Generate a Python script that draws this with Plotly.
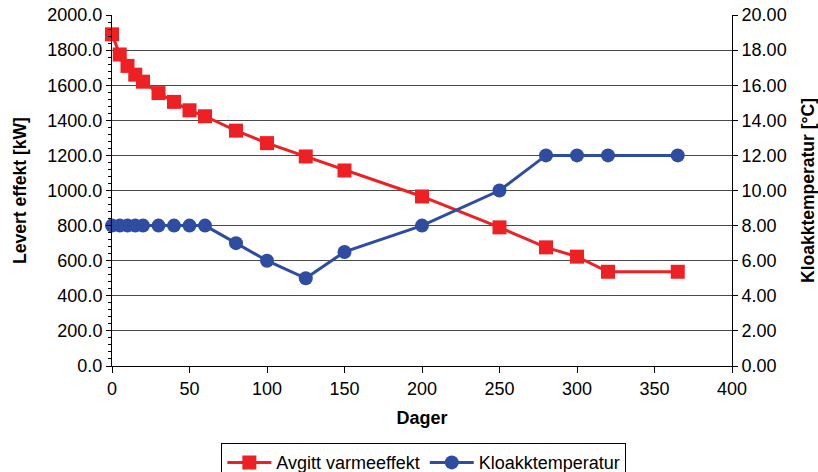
import plotly.graph_objects as go

# Days since start of period
dager = [0, 5, 10, 15, 20, 30, 40, 50, 60, 80, 100, 125, 150, 200, 250, 280, 300, 320, 365]

# Delivered heat output [kW]
avgitt_varmeeffekt = [1890, 1775, 1710, 1660, 1620, 1555, 1505, 1457, 1423, 1341, 1270, 1194,
                      1114, 966, 790, 676, 623, 537, 537]

# Sewage temperature [°C]
kloakktemperatur = [8, 8, 8, 8, 8, 8, 8, 8, 8, 7, 6, 5, 6.5, 8, 10, 12, 12, 12, 12]

left_ticks = list(range(0, 2001, 200))
right_ticks = list(range(0, 21, 2))

RED = "#ED2124"
BLUE = "#2E4DA0"
FONT = "Liberation Sans, Arial, sans-serif"

fig = go.Figure()

fig.add_trace(go.Scatter(
    x=dager, y=avgitt_varmeeffekt, name="Avgitt varmeeffekt",
    mode="lines+markers",
    line=dict(color=RED, width=3),
    marker=dict(symbol="square", size=14, color=RED),
    cliponaxis=False,
    yaxis="y",
))

fig.add_trace(go.Scatter(
    x=dager, y=kloakktemperatur, name="Kloakktemperatur",
    mode="lines+markers",
    line=dict(color=BLUE, width=3),
    marker=dict(symbol="circle", size=14, color=BLUE),
    cliponaxis=False,
    yaxis="y2",
))

fig.update_layout(
    width=818, height=472,
    margin=dict(l=112, r=86, t=15, b=106, autoexpand=False),
    paper_bgcolor="white", plot_bgcolor="white",
    font=dict(family=FONT, size=18, color="black"),
    showlegend=True,
    legend=dict(
        orientation="h",
        x=0.503, xanchor="center",
        y=-0.22, yanchor="top",
        bordercolor="black", borderwidth=1,
        font=dict(size=18),
        itemwidth=44,
        tracegroupgap=0,
    ),
    xaxis=dict(
        range=[0, 400], dtick=50, tick0=0,
        showgrid=False, zeroline=False,
        showline=True, linecolor="black", linewidth=1,
        ticks="outside", ticklen=6, tickcolor="black",
        title=dict(text="<b>Dager</b>", font=dict(size=18), standoff=13),
    ),
    yaxis=dict(
        range=[0, 2000], tickvals=left_ticks, tickformat=".1f",
        showgrid=True, gridcolor="#4a4a4a", gridwidth=1,
        zeroline=False,
        showline=True, linecolor="black", linewidth=1,
        ticks="outside", ticklen=5, tickcolor="black",
        minor=dict(dtick=40, ticks="outside", ticklen=3, tickcolor="black", showgrid=False),
        title=dict(text="<b>Levert effekt [kW]</b>", font=dict(size=17.5), standoff=16),
    ),
    yaxis2=dict(
        range=[0, 20], tickvals=right_ticks, tickformat=".2f",
        overlaying="y", side="right",
        showgrid=False, zeroline=False,
        showline=True, linecolor="black", linewidth=1,
        ticks="outside", ticklen=5, tickcolor="black",
        title=dict(text="<b>Kloakktemperatur [°C]</b>", font=dict(size=17.5), standoff=17),
    ),
)

fig.write_html("out.html")
